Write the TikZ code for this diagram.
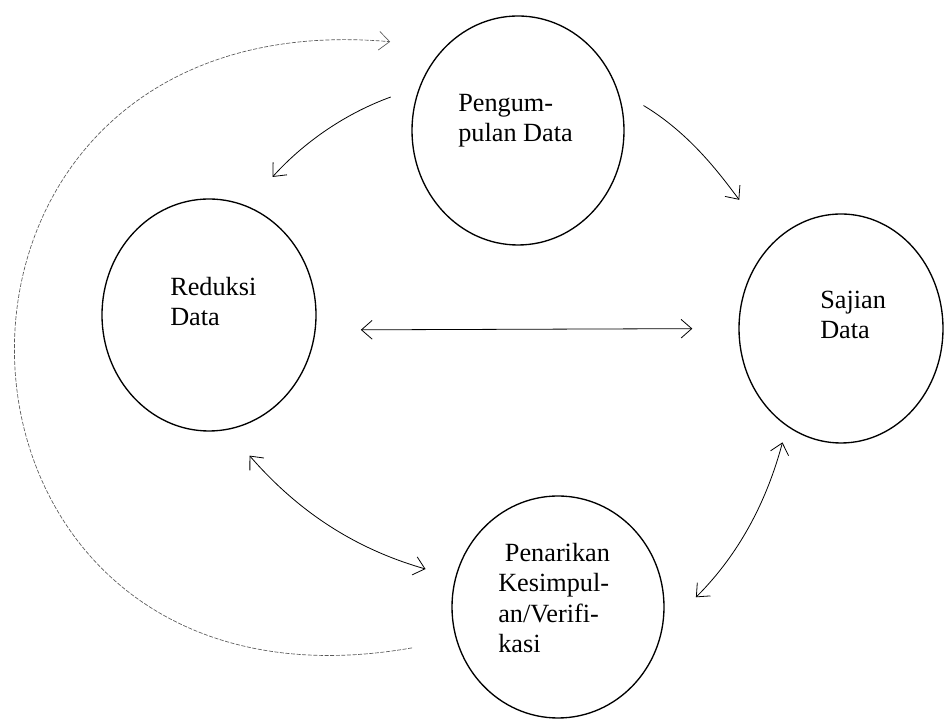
\documentclass[tikz,border=0pt]{standalone}
\usepackage{fontspec}
\setmainfont{Liberation Serif}
\usetikzlibrary{shapes.geometric, arrows.meta}
\tikzset{
    vtip/.tip={Straight Barb[length=8pt,width=14pt]},
    stagenode/.style={
        ellipse,
        draw=black,
        line width=1pt, % garis tepi
        inner sep=0
    },
    stagetext/.style={
        anchor=base west, % baris terakhir
        align=left,
        inner sep=0,
        font=\fontsize{19.7pt}{22.9pt}\selectfont
    },
    flowarrow/.style={
        line width=0.6pt,
        line cap=round
    },
    fadedarrow/.style={
        line width=0.5pt,
        draw=black!65, % garis pudar
        dash pattern=on 3pt off 1.2pt
    }
}

\begin{document}
\begin{tikzpicture}[x=0.75pt, y=0.75pt]
            \useasboundingbox (0,0) rectangle (946,720);
            % empat tahap
            \node[stagenode, minimum width=159pt, minimum height=171.75pt] (peng) at (518,589.5) {};
            \node[stagenode, minimum width=160.5pt, minimum height=174pt] (red) at (209,405) {};
            \node[stagenode, minimum width=153pt, minimum height=171.75pt] (saj) at (841,391.5) {};
            \node[stagenode, minimum width=159pt, minimum height=166.5pt] (pen) at (558,113) {};
            % teks di dalam elips
            \node[stagetext] (peng-txt) at (458,578) {Pengum-\\pulan Data};
            \node[stagetext] (red-txt) at (170,394) {Reduksi\\Data};
            \node[stagetext] (saj-txt) at (820,381) {Sajian\\Data};
            \node[stagetext] (pen-txt) at (498,67) {\hspace{5pt}Penarikan\\Kesimpul-\\an/Verifi-\\kasi};
            % panah
            \draw[flowarrow, -vtip, shorten <=22.5pt, shorten >=40.8pt] (peng.22) to[out=-31, in=127] (saj.129);
            \draw[flowarrow, -vtip, shorten <=23pt, shorten >=29pt] (peng.156) to[out=200, in=48] (red.71);
            \draw[flowarrow, vtip-vtip, shorten <=33.8pt, shorten >=34.5pt] (red.352.5) -- (saj.180);
            \draw[flowarrow, vtip-vtip, shorten <=25.5pt, shorten >=23.1pt] (red.279) to[out=-49, in=164] (pen.164);
            \draw[flowarrow, vtip-vtip, shorten <=12.5pt, shorten >=35.8pt] (saj.241) to[out=255, in=45] (pen.347);
            \draw[fadedarrow, -vtip, shorten <=33.5pt, shorten >=41.3pt] (pen.198) .. controls +(190:565) and +(175:575) .. (peng.131.5);
\end{tikzpicture}
\end{document}
